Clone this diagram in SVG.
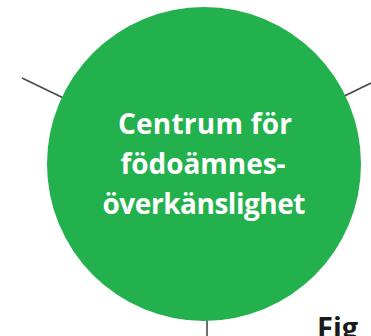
<svg xmlns="http://www.w3.org/2000/svg" width="371" height="336" viewBox="0 0 371 336">
  <style>
    .conn { stroke: #4a4a4a; stroke-width: 1.6; fill: none; }
    .node { fill: #22b14c; }
    .label { font-family: "Open Sans", "Liberation Sans", sans-serif; font-weight: 700; font-size: 28px; fill: #ffffff; text-anchor: middle; }
    .fig { font-family: "Open Sans", "Liberation Sans", sans-serif; font-weight: 700; font-size: 29px; fill: #1a1a1a; }
  </style>
  <rect width="371" height="336" fill="#ffffff"/>
  <g id="connectors">
    <line class="conn" x1="22" y1="78" x2="80" y2="106"/>
    <line class="conn" x1="330" y1="103" x2="371" y2="83"/>
    <line class="conn" x1="207" y1="300" x2="207" y2="336"/>
  </g>
  <g id="centrum">
    <circle class="node" cx="204" cy="164" r="157"/>
    <text class="label" x="205" y="134" textLength="174" lengthAdjust="spacing">Centrum för</text>
    <text class="label" x="203" y="174" textLength="165" lengthAdjust="spacing">födoämnes-</text>
    <text class="label" x="204" y="214" textLength="203" lengthAdjust="spacing">överkänslighet</text>
  </g>
  <g id="caption">
    <text class="fig" x="317" y="338">Fig</text>
  </g>
</svg>
